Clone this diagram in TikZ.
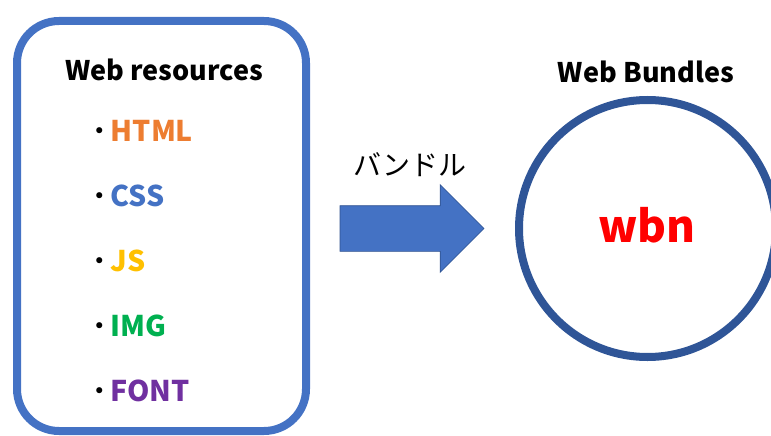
\documentclass[tikz,border=0pt]{standalone}
\usepackage{fontspec}
\setmainfont{Noto Sans CJK JP}
\usetikzlibrary{positioning,shapes.arrows}
\definecolor{boxblue}{HTML}{4472C4}
\definecolor{ringblue}{HTML}{2F5597}
\definecolor{arrowedge}{HTML}{2F528F}
\definecolor{htmlorange}{HTML}{ED7D31}
\definecolor{cssblue}{HTML}{4472C4}
\definecolor{jsgold}{HTML}{FFC000}
\definecolor{imggreen}{HTML}{00B050}
\definecolor{fontpurple}{HTML}{7030A0}
\tikzset{
    resbox/.style={
        draw=boxblue, line width=8pt, rectangle,
        rounded corners=42pt,
        minimum width=289pt, minimum height=410pt
    },
    bundle/.style={
        draw=ringblue, line width=8pt, circle,
        minimum size=257pt, inner sep=0pt
    },
    bigarrow/.style={
        single arrow, fill=boxblue, draw=arrowedge, line width=0.6pt,
        inner sep=0pt, outer sep=0pt, text height=45pt, text depth=0pt,
        minimum height=144pt, single arrow head extend=21pt
    },
    heading/.style={font=\bfseries\fontsize{27pt}{32pt}\selectfont, inner sep=0pt},
    item/.style={font=\bfseries\fontsize{28.5pt}{34pt}\selectfont, inner sep=0pt, anchor=west}
}

\begin{document}
\begin{tikzpicture}[x=1pt, y=-1pt]
	\useasboundingbox (0,0) rectangle (771,436);

	\node[resbox] (res) at (161.5,226) {};
	\node[heading] (restitle) at (164,70) {Web resources};

	\node[item] (html) at (85,131) {{\mdseries ・}\hspace{-3pt}\textcolor{htmlorange}{HTML}};
	\node[item] (css) [below=65pt of html.west, anchor=west] {{\mdseries ・}\hspace{-3pt}\textcolor{cssblue}{CSS}};
	\node[item] (js) [below=65pt of css.west, anchor=west] {{\mdseries ・}\hspace{-3pt}\textcolor{jsgold}{JS}};
	\node[item] (img) [below=65pt of js.west, anchor=west] {{\mdseries ・}\hspace{-3pt}\textcolor{imggreen}{IMG}};
	\node[item] (font) [below=65pt of img.west, anchor=west] {{\mdseries ・}\hspace{-3pt}\textcolor{fontpurple}{FONT}};

	\node[bigarrow, anchor=tail] (bundling) at (340,228.5) {};
	\node[font=\fontsize{28pt}{32pt}\selectfont, inner sep=0pt] (bundlelabel) at (410,165) {バンドル};

	\node[bundle] (wbn) at (647.5,228.5) {};
	\node[heading] (wbntitle) at (646,72) {Web Bundles};
	\node[font=\bfseries\fontsize{44pt}{50pt}\selectfont, text=red, inner sep=0pt] (wbnname) at (647,225) {wbn};
\end{tikzpicture}
\end{document}
